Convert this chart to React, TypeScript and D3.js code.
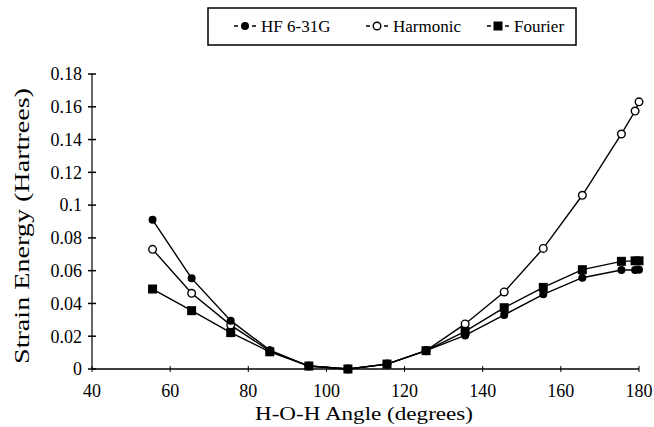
import React from "react";
import * as d3 from "d3";

const angles = [55.5, 65.5, 75.5, 85.5, 95.5, 105.5, 115.5, 125.5, 135.5, 145.5, 155.5, 165.5, 175.5, 179, 180];
const hfValues = [0.091, 0.0553, 0.0295, 0.0115, 0.0018, 0, 0.003, 0.0112, 0.0205, 0.033, 0.0456, 0.0557, 0.0604, 0.0604, 0.0605];
const harmonicValues = [0.073, 0.0462, 0.0268, 0.011, 0.0018, 0, 0.003, 0.0112, 0.0275, 0.047, 0.0736, 0.106, 0.1434, 0.1574, 0.163];
const fourierValues = [0.0488, 0.0356, 0.0222, 0.0105, 0.0018, 0, 0.003, 0.0112, 0.023, 0.0374, 0.0498, 0.0606, 0.0657, 0.066, 0.066];
const xTicks = [40, 60, 80, 100, 120, 140, 160, 180];
const yTicks = [0, 0.02, 0.04, 0.06, 0.08, 0.1, 0.12, 0.14, 0.16, 0.18];
const yTickLabels = ["0", "0.02", "0.04", "0.06", "0.08", "0.1", "0.12", "0.14", "0.16", "0.18"];
const seriesNames = ["HF 6-31G", "Harmonic", "Fourier"];

const W = 654;
const H = 427;
const FONT = "'Liberation Serif', 'Times New Roman', Times, serif";
const tStyle = { fontFamily: FONT } as React.CSSProperties;

export default function App() {
  const x = d3.scaleLinear().domain([40, 180]).range([92, 639]);
  const y = d3.scaleLinear().domain([0, 0.18]).range([369, 74]);
  const line = d3
    .line<[number, number]>()
    .x((d) => x(d[0]))
    .y((d) => y(d[1]));

  const mk = (vals: number[]) => angles.map((a, i) => [a, vals[i]] as [number, number]);
  const hf = mk(hfValues);
  const harm = mk(harmonicValues);
  const four = mk(fourierValues);

  const legendItems = [
    { name: seriesNames[0], kind: "filled", x: 245 },
    { name: seriesNames[1], kind: "open", x: 377 },
    { name: seriesNames[2], kind: "square", x: 498 },
  ];
  const legendY = 26;

  const marker = (kind: string, cx: number, cy: number, key: string | number) => {
    if (kind === "filled") return <circle key={key} cx={cx} cy={cy} r={4} fill="#000" />;
    if (kind === "open")
      return <circle key={key} cx={cx} cy={cy} r={3.8} fill="#fff" stroke="#000" strokeWidth={1.4} />;
    return <rect key={key} x={cx - 4.5} y={cy - 4.5} width={9} height={9} fill="#000" />;
  };

  return (
    <svg
      width={W}
      height={H}
      style={{ position: "absolute", left: 0, top: 0, background: "#fff", fontFamily: FONT }}
    >
      <rect x={0} y={0} width={W} height={H} fill="#fff" />
      {/* legend */}
      <rect x={208} y={8} width={368} height={37} fill="none" stroke="#000" strokeWidth={1.5} />
      {legendItems.map((it) => (
        <g key={it.name}>
          <line x1={it.x - 11} x2={it.x + 11} y1={legendY} y2={legendY} stroke="#000" strokeWidth={1.5} strokeDasharray="4,14" />
          {marker(it.kind, it.x, legendY, "m")}
          <text x={it.x + 16} y={legendY} dy="0.35em" fontSize={17} style={tStyle}>
            {it.name}
          </text>
        </g>
      ))}

      {/* axes */}
      <line x1={x(40)} x2={x(180)} y1={y(0)} y2={y(0)} stroke="#000" strokeWidth={1.5} />
      <line x1={x(40)} x2={x(40)} y1={y(0)} y2={y(0.18)} stroke="#000" strokeWidth={1.2} />
      {xTicks.map((t) => (
        <g key={t}>
          <line x1={x(t)} x2={x(t)} y1={y(0) - 3} y2={y(0) + 3} stroke="#000" strokeWidth={1} />
          <text x={x(t)} y={y(0) + 28} textAnchor="middle" fontSize={18} style={tStyle}>
            {t}
          </text>
        </g>
      ))}
      {yTicks.map((t, i) => (
        <g key={t}>
          <line x1={x(40) - 4} x2={x(40) + 4} y1={y(t)} y2={y(t)} stroke="#000" strokeWidth={1.5} />
          <text x={x(40) - 10} y={y(t)} dy="0.35em" textAnchor="end" fontSize={18} style={tStyle}>
            {yTickLabels[i]}
          </text>
        </g>
      ))}
      <text x={364} y={420} textAnchor="middle" fontSize={18} textLength={218} lengthAdjust="spacingAndGlyphs" style={tStyle}>
        H-O-H Angle (degrees)
      </text>
      <text
        transform={`translate(29,226) rotate(-90)`}
        textAnchor="middle"
        fontSize={21}
        textLength={276}
        lengthAdjust="spacingAndGlyphs"
        style={tStyle}
      >
        Strain Energy (Hartrees)
      </text>

      {/* series */}
      <path d={line(harm) || ""} fill="none" stroke="#000" strokeWidth={1.4} />
      <path d={line(hf) || ""} fill="none" stroke="#000" strokeWidth={1.4} />
      <path d={line(four) || ""} fill="none" stroke="#000" strokeWidth={1.4} />
      {harm.map((d, i) => marker("open", x(d[0]), y(d[1]), "h" + i))}
      {hf.map((d, i) => marker("filled", x(d[0]), y(d[1]), "f" + i))}
      {four.map((d, i) => marker("square", x(d[0]), y(d[1]), "s" + i))}
    </svg>
  );
}
